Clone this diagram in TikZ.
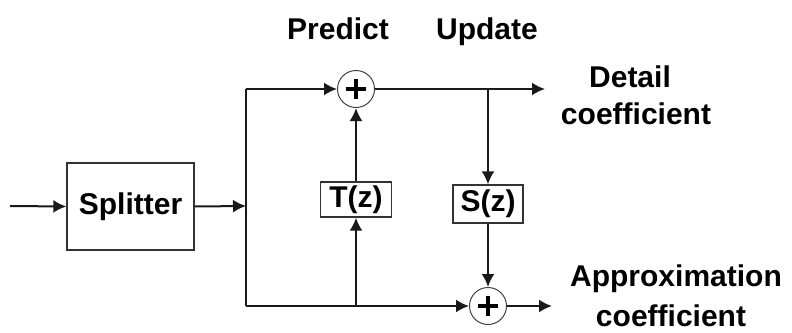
\documentclass[tikz,border=0pt]{standalone}
\usepackage{fontspec}
\setmainfont{Liberation Sans}
\usetikzlibrary{arrows.meta}
\begin{document}
\begin{tikzpicture}[x=1pt,y=-1pt,
  lbl/.style={font=\fontsize{30}{34}\selectfont\bfseries, inner sep=0pt},
  blockbox/.style={draw=black!80, line width=1.4pt, fill=white, inner sep=0pt,
    font=\fontsize{30}{34}\selectfont\bfseries},
  sumnode/.style={circle, draw=black!75, line width=1pt, minimum size=37pt, inner sep=0pt,
    path picture={
      \draw[line width=3.6pt, black]
        ([xshift=-10pt]path picture bounding box.center) -- ([xshift=10pt]path picture bounding box.center)
        ([yshift=-10pt]path picture bounding box.center) -- ([yshift=10pt]path picture bounding box.center);
    }},
  wire/.style={line width=2pt, black!90},
  flow/.style={wire, -{Latex[length=13pt,width=13pt]}}
]
\useasboundingbox (0,0) rectangle (792,332);

% blocks
\node[blockbox, minimum width=127pt, minimum height=87pt] (split) at (130.5,206.5) {Splitter};
\node[blockbox, minimum width=71pt, minimum height=35pt] (tz) at (356,199.5) {T(z)};
\node[blockbox, minimum width=70pt, minimum height=38pt] (sz) at (488,204) {S(z)};

% adders
\node[sumnode] (pad) at (356,89) {};
\node[sumnode] (uad) at (488,306) {};

% junction points and free ends
\coordinate (in)   at (10,206);
\coordinate (fork) at (246,206);
\coordinate (ftop) at (246,89);
\coordinate (fbot) at (246,306);
\coordinate (tap)  at (356,306);
\coordinate (sap)  at (488,89);
\coordinate (dout) at (545,89);
\coordinate (aout) at (552,306);

% signal flow
\draw[flow] (in) -- (split.west);
\draw[flow] (split.east) -- (fork);
\draw[wire] (ftop) -- (fbot);
\draw[flow] (ftop) -- (pad.west);
\draw[flow] (fbot) -- (uad.west);
\draw[flow] (tap) -- (tz.south);
\draw[flow] (tz.north) -- (pad.south);
\draw[flow] (pad.east) -- (dout);
\draw[flow] (sap) -- (sz.north);
\draw[flow] (sz.south) -- (uad.north);
\draw[flow] (uad.east) -- (aout);

% labels
\node[lbl, anchor=base] (lpred) at (338,39) {Predict};
\node[lbl, anchor=base] (lupd)  at (487,39) {Update};
\node[lbl, anchor=base] (ldet1) at (630,87) {Detail};
\node[lbl, anchor=base] (ldet2) at (636,124) {coefficient};
\node[lbl, anchor=base] (lapp1) at (676,286) {Approximation};
\node[lbl, anchor=base] (lapp2) at (671,326) {coefficient};
\end{tikzpicture}
\end{document}
